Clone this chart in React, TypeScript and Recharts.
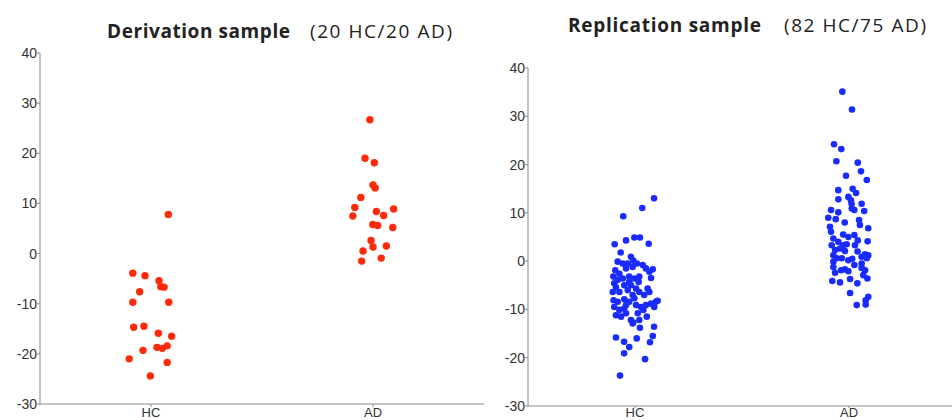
import { ScatterChart, Scatter, XAxis, YAxis } from 'recharts'

const categories = ['HC', 'AD']
const yTicks = [-30, -20, -10, 0, 10, 20, 30, 40]

// Derivation sample (20 HC / 20 AD)
const derivHC = [7.8, -3.9, -4.4, -5.4, -6.6, -6.7, -7.6, -9.7, -9.7, -14.7, -14.5, -15.9, -16.5, -18.7, -18.9, -18.4, -19.3, -21.0, -21.7, -24.4]
const derivHCJitter = [0.078, -0.082, -0.027, 0.036, 0.044, 0.059, -0.051, -0.082, 0.08, -0.078, -0.032, 0.033, 0.093, 0.027, 0.051, 0.073, -0.036, -0.098, 0.073, -0.003]
const derivAD = [26.7, 19.0, 18.1, 13.7, 13.1, 11.2, 9.2, 8.9, 7.5, 8.4, 7.6, 5.8, 5.6, 5.2, 2.6, 1.3, 1.5, 0.5, -1.5, -0.9]
const derivADJitter = [-0.014, -0.036, 0.006, 0, 0.01, -0.055, -0.082, 0.093, -0.091, 0.015, 0.048, -0.001, 0.021, 0.089, -0.009, 0, 0.06, -0.045, -0.051, 0.037]

// Replication sample (82 HC / 75 AD)
const replHC = [
  13.0, 11.0, 9.3, 3.5, 4.3, 4.9, 4.9, 3.6, 1.8,
  -15.8, -16.7, -17.8, -19.1, -16.0, -20.3, -23.7, -13.6, -15.5, -16.8, -13.8, -12.7,
  -0.1, -0.5, 0.9, 0.1, -0.5, -1.9, -2.6, -1.5, -1.2, -1.5, -1.7, -2.2, -3.2, -3.9, -3.2, -3.6, -3.2, -3.5,
  -4.6, -5.0, -5.0, -5.7, -5.7, -6.4, -6.4, -6.4, -6.0, -6.4, -7.0, -8.1, -8.4, -7.9, -8.4, -9.1, -9.5,
  -9.1, -8.8, -8.4, -8.2, -9.5, -10.1, -9.8, -11.2, -11.5, -10.8, -12.2, -12.9, -12.2, -11.5, -10.1,
  -4.3, -4.3, -3.6, -0.8, -0.5, -7.0, -9.5, -5.4, -7.7, -9.1, -10.8,
]
const replHCJitter = [
  0.089, 0.034, -0.055, -0.095, -0.042, -0.003, 0.023, 0.064, -0.067,
  -0.089, -0.051, -0.027, -0.051, 0.008, 0.047, -0.07, 0.089, 0.083, 0.07, 0.023, -0.008,
  -0.081, -0.057, -0.019, -0.008, 0.009, -0.092, -0.073, -0.042, -0.011, 0.051, 0.083, 0.067, -0.101, -0.081, -0.027, -0.003, 0.02, 0.075,
  -0.097, -0.05, -0.019, 0.005, 0.059, 0.067, -0.104, -0.073, -0.034, 0.02, -0.011, -0.1, -0.081, -0.05, -0.027, 0.005, 0.028,
  0.051, 0.075, 0.098, 0.106, -0.097, -0.073, -0.05, -0.089, -0.065, -0.042, -0.019, -0.011, 0.02, 0.055, 0.039,
  -0.027, 0.017, -0.057, 0.036, -0.034, 0.043, 0.09, -0.089, -0.003, -0.042, 0.013,
]
const replAD = [
  35.1, 31.4, 24.2, 23.2, 20.7, 20.4, 18.6, 17.7, 16.8, 14.7, 15.0, 14.1, 12.8, 13.3, 12.6,
  11.9, 10.9, 11.9, 10.6, 10.1, 10.6, 10.4, 9.0, 8.7, 8.5, 7.5, 7.1, 6.8, 6.1, 5.5,
  5.0, 5.4, 4.3, 4.7, 4.0, 4.1, 3.3, 3.3, 3.5, 3.3, 2.3, 2.6, 2.1, 1.4, 1.2,
  1.2, 0.6, 0.6, 0.2, 0.9, -0.1, 0.5, 0.6, -0.5, -1.2, -1.9, -2.1, -1.4, -1.9, -2.4,
  -2.9, -1.7, -4.1, -4.4, -3.7, -4.6, -3.6, -6.6, -7.4, -8.1, -9.1, -9.0, 8.0, 2.0, -0.8,
]
const replADJitter = [
  -0.031, 0.014, -0.07, -0.036, -0.059, 0.041, 0.056, -0.014, 0.083, -0.05, 0.017, 0.033, -0.05, -0.003, 0.009,
  0.012, 0.013, 0.059, -0.084, -0.05, 0.025, 0.071, -0.097, -0.062, 0.047, 0.051, -0.089, 0.09, -0.084, -0.027,
  -0.003, 0.025, 0.041, -0.073, -0.05, 0.087, -0.081, -0.027, -0.011, 0.028, -0.065, -0.042, -0.019, 0.075, 0.09,
  -0.073, -0.057, -0.034, -0.003, 0.059, -0.073, 0.015, 0.083, 0.059, -0.073, -0.037, -0.003, 0.059, 0.075, -0.065,
  0.067, -0.019, -0.078, -0.042, 0.005, 0.039, 0.086, 0.005, 0.09, 0.078, 0.036, 0.078, -0.02, 0.04, 0.025,
]

const toPoints = (values: number[], jitter: number[], group: number) =>
  values.map((y, i) => ({ x: group + jitter[i], y }))

const axisColor = '#8a8a8a'
const tickStyle = { fill: '#333', fontSize: 14, fontFamily: 'Liberation Sans, Arial, sans-serif' }
const xTickStyle = { ...tickStyle, fontSize: 13 }

interface PanelProps {
  points: { x: number; y: number }[]
  color: string
  r: number
  width: number
  height: number
  top: number
  xTickSize: number
  xTickMargin: number
}

function Panel({ points, color, r, width, height, top, xTickSize, xTickMargin }: PanelProps) {
  return (
    <ScatterChart width={width} height={height} margin={{ top, right: 0, bottom: 0, left: 0 }}>
      <XAxis
        type="number"
        dataKey="x"
        domain={[0.5, 2.5]}
        ticks={[1, 2]}
        tickFormatter={(v: number) => categories[v - 1]}
        allowDataOverflow
        stroke={axisColor}
        tick={xTickStyle}
        tickSize={xTickSize}
        tickMargin={xTickMargin}
        height={30}
      />
      <YAxis
        type="number"
        dataKey="y"
        domain={[-30, 40]}
        ticks={yTicks}
        stroke={axisColor}
        tick={tickStyle}
        tickSize={3}
        tickMargin={0}
        width={40}
      />
      <Scatter
        data={points}
        isAnimationActive={false}
        shape={(p: any) => <circle cx={p.cx} cy={p.cy} r={r} fill={color} />}
      />
    </ScatterChart>
  )
}

const titleFont = '"Open Sans", Lato, sans-serif'

export default function App() {
  const left = [...toPoints(derivHC, derivHCJitter, 1), ...toPoints(derivAD, derivADJitter, 2)]
  const right = [...toPoints(replHC, replHCJitter, 1), ...toPoints(replAD, replADJitter, 2)]
  return (
    <div style={{ position: 'fixed', left: 0, top: 0, width: 952, height: 420, overflow: 'hidden', background: '#fff' }}>
      <div style={{ position: 'absolute', left: 0, top: 0 }}>
        <Panel points={left} color="#ff2a0a" r={3.7} width={484} height={434} top={53} xTickSize={3} xTickMargin={1} />
      </div>
      <div style={{ position: 'absolute', left: 488, top: 0 }}>
        <Panel points={right} color="#1a2bff" r={3.3} width={468} height={436} top={68} xTickSize={2} xTickMargin={0} />
      </div>
      <svg width={952} height={60} style={{ position: 'absolute', left: 0, top: 0 }}>
        <text x={107} y={38} fontFamily={titleFont} fontSize={19} fontWeight="bold" fill="#222" textLength={183} lengthAdjust="spacing">Derivation sample</text>
        <text x={310} y={38} fontFamily={titleFont} fontSize={19} fill="#222" textLength={142} lengthAdjust="spacing">(20 HC/20 AD)</text>
        <text x={568} y={32} fontFamily={titleFont} fontSize={19} fontWeight="bold" fill="#222" textLength={193} lengthAdjust="spacing">Replication sample</text>
        <text x={784} y={32} fontFamily={titleFont} fontSize={19} fill="#222" textLength={142} lengthAdjust="spacing">(82 HC/75 AD)</text>
      </svg>
    </div>
  )
}
